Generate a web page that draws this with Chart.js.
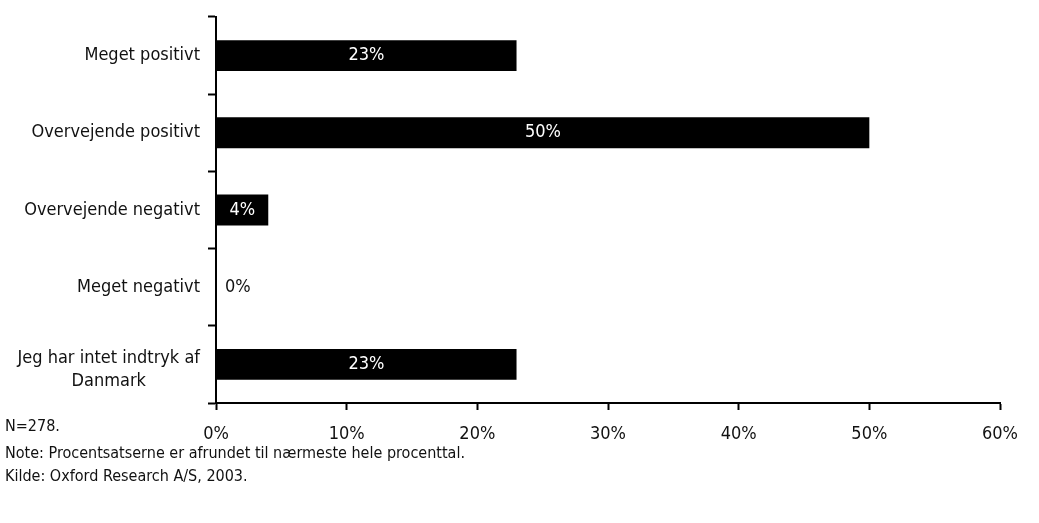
<!DOCTYPE html>
<html>
<head>
<meta charset="utf-8">
<script src="https://cdn.jsdelivr.net/npm/chart.js@4/dist/chart.umd.min.js"></script>
<style>
  body { margin: 0; background: #fff; }
  #wrap { position: relative; width: 1039px; height: 523px; }
  .note {
    position: absolute;
    left: 5px;
    font-family: "Liberation Sans Narrow", "DejaVu Sans Condensed", sans-serif;
    font-size: 16px;
    line-height: 19px;
    color: #111;
    white-space: nowrap;
  }
</style>
</head>
<body>
<div id="wrap">
  <canvas id="chart" width="1039" height="523"></canvas>
  <div class="note" style="top:416px">N=278.</div>
  <div class="note" style="top:443px">Note: Procentsatserne er afrundet til nærmeste hele procenttal.</div>
  <div class="note" style="top:466px">Kilde: Oxford Research A/S, 2003.</div>
</div>
<script>
const categories = [
  "Meget positivt",
  "Overvejende positivt",
  "Overvejende negativt",
  "Meget negativt",
  ["Jeg har intet indtryk af", "Danmark"],
];
const shares = [23, 50, 4, 0, 23];
const xTicks = [0, 10, 20, 30, 40, 50, 60];

const FONT = '"Liberation Sans Narrow", "DejaVu Sans Condensed", sans-serif';
const SIZE = 18;

// value labels: white inside the bar, black beside it when the bar is empty
const barLabels = {
  id: "barLabels",
  afterDatasetsDraw(chart) {
    const ctx = chart.ctx;
    const meta = chart.getDatasetMeta(0);
    ctx.save();
    ctx.font = SIZE + "px " + FONT;
    ctx.textBaseline = "middle";
    meta.data.forEach((bar, i) => {
      const v = shares[i];
      const text = v + "%";
      if (v > 0) {
        ctx.fillStyle = "#fff";
        ctx.textAlign = "center";
        ctx.fillText(text, (bar.base + bar.x) / 2, bar.y);
      } else {
        ctx.fillStyle = "#111";
        ctx.textAlign = "left";
        ctx.fillText(text, bar.x + 9, bar.y);
      }
    });
    ctx.restore();
  },
};

// multi-line category labels are centred line by line
const centredLabels = {
  id: "centredLabels",
  afterDraw(chart) {
    const scale = chart.scales.y;
    const ctx = chart.ctx;
    ctx.save();
    ctx.font = SIZE + "px " + FONT;
    ctx.fillStyle = "#111";
    ctx.textBaseline = "middle";
    ctx.textAlign = "center";
    categories.forEach((lab, i) => {
      if (!Array.isArray(lab)) return;
      const widest = Math.max(...lab.map((l) => ctx.measureText(l).width));
      const cx = scale.right - 16 - widest / 2;
      const cy = scale.getPixelForTick(i);
      const lh = 23;
      lab.forEach((l, j) => {
        ctx.fillText(l, cx, cy + (j - (lab.length - 1) / 2) * lh + 5);
      });
    });
    ctx.restore();
  },
};

new Chart(document.getElementById("chart"), {
  type: "bar",
  data: {
    labels: categories,
    datasets: [
      {
        data: shares,
        backgroundColor: "#000",
        borderWidth: 0,
        categoryPercentage: 1,
        barPercentage: 0.4,
      },
    ],
  },
  options: {
    indexAxis: "y",
    responsive: false,
    animation: false,
    layout: { padding: { top: 17, right: 39, left: 0, bottom: 0 } },
    plugins: {
      legend: { display: false },
      tooltip: { enabled: false },
    },
    scales: {
      x: {
        min: 0,
        max: 60,
        afterBuildTicks: (s) => {
          s.ticks = xTicks.map((v) => ({ value: v }));
        },
        afterFit: (s) => {
          s.height = 120;
          s.paddingLeft = 0;
          s.paddingRight = 0;
        },
        grid: {
          drawOnChartArea: false,
          drawTicks: true,
          tickLength: 7,
          tickWidth: 2,
          tickColor: "#000",
        },
        border: { color: "#000", width: 2 },
        ticks: {
          color: "#111",
          font: { family: FONT, size: SIZE },
          padding: 14,
          maxRotation: 0,
          callback: (v) => v + "%",
        },
      },
      y: {
        afterFit: (s) => {
          s.width = 216;
          s.paddingTop = 0;
          s.paddingBottom = 0;
        },
        grid: {
          drawOnChartArea: false,
          drawTicks: true,
          tickLength: 8,
          tickWidth: 2,
          tickColor: "#000",
          offset: true,
        },
        border: { color: "#000", width: 2 },
        ticks: {
          color: (c) => (Array.isArray(categories[c.index]) ? "rgba(0,0,0,0)" : "#111"),
          font: { family: FONT, size: SIZE },
          padding: 8,
        },
      },
    },
  },
  plugins: [barLabels, centredLabels],
});
</script>
</body>
</html>
